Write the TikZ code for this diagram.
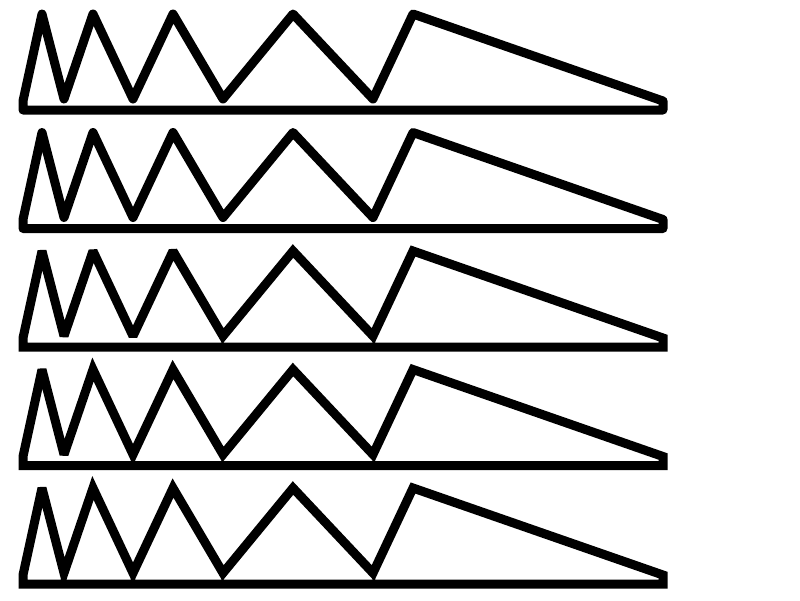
\documentclass[tikz,border=0pt]{standalone}
\begin{document}
\begin{tikzpicture}[x=1pt,y=-1pt,
  zig/.style={draw=black,line width=9pt},
  joinround/.style={zig,line join=round},
  joinmiterA/.style={zig,line join=miter,miter limit=2},
  joinmiterB/.style={zig,line join=miter,miter limit=3},
  joinmiterC/.style={zig,line join=miter,miter limit=4}]
\useasboundingbox (0,0) rectangle (800,600);
\def\zigpath{(23,101) -- (42,14) -- (64,99) -- (93,14) -- (133,99) -- (173,14) -- (223,99) -- (293,14) -- (373,99) -- (413,14) -- (663,101) -- (663,110) -- (23,110) -- cycle}
\begin{scope}[yshift=0pt]
  \draw[joinround] \zigpath;
\end{scope}
\begin{scope}[yshift=-118.5pt]
  \draw[joinround] \zigpath;
\end{scope}
\begin{scope}[yshift=-237pt]
  \draw[joinmiterA] \zigpath;
\end{scope}
\begin{scope}[yshift=-355.5pt]
  \draw[joinmiterB] \zigpath;
\end{scope}
\begin{scope}[yshift=-474pt]
  \draw[joinmiterC] \zigpath;
\end{scope}
\end{tikzpicture}
\end{document}
